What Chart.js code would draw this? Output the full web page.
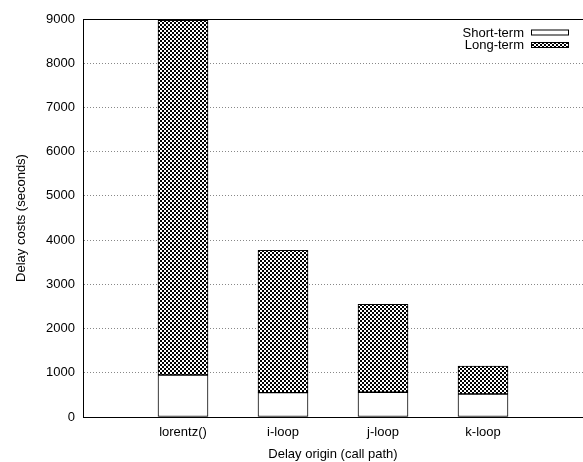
<!DOCTYPE html>
<html>
<head>
<meta charset="utf-8">
<script src="https://cdn.jsdelivr.net/npm/chart.js@4/dist/chart.umd.min.js"></script>
<style>
  html, body { margin: 0; padding: 0; background: #fff; }
  canvas { display: block; }
</style>
</head>
<body>
<canvas id="chart" width="583" height="462"></canvas>
<script>
// Data
var categories = ['lorentz()', 'i-loop', 'j-loop', 'k-loop'];
var shortTerm = [950, 550, 560, 520];
var longTerm = [8020, 3220, 1990, 630];
var seriesLabels = ['Short-term', 'Long-term'];
var yTicks = [0, 1000, 2000, 3000, 4000, 5000, 6000, 7000, 8000, 9000];

// checkerboard fill like the gnuplot pattern
function makePattern() {
    var c = document.createElement('canvas');
    c.width = 4;
    c.height = 4;
    var g = c.getContext('2d');
    g.fillStyle = '#fff';
    g.fillRect(0, 0, 4, 4);
    g.fillStyle = '#000';
    g.fillRect(0, 0, 2, 2);
    g.fillRect(2, 2, 2, 2);
    return g.createPattern(c, 'repeat');
}
var checker = makePattern();

var FONT = { family: '"Liberation Sans", Arial, sans-serif', size: 13 };
Chart.defaults.color = '#000';

// top frame line + legend inside the plot, gnuplot style
var framePlugin = {
    id: 'frame',
    afterDraw: function (chart) {
        var ctx = chart.ctx;
        var a = chart.chartArea;
        ctx.save();
        ctx.strokeStyle = '#000';
        ctx.lineWidth = 1;
        ctx.beginPath();
        ctx.moveTo(a.left, 19.5);
        ctx.lineTo(a.right, 19.5);
        ctx.stroke();

        ctx.font = FONT.size + 'px ' + FONT.family;
        ctx.textAlign = 'right';
        ctx.textBaseline = 'middle';
        ctx.fillStyle = '#000';
        chart.data.datasets.forEach(function (ds, i) {
            var y = 32.5 + i * 12.5;
            ctx.fillText(ds.label, 524, y + 0.5);
            ctx.fillStyle = ds.backgroundColor;
            ctx.fillRect(531, y - 2.5, 38, 5);
            ctx.strokeStyle = '#000';
            ctx.strokeRect(531.5, y - 2.5, 37, 5);
            ctx.fillStyle = '#000';
        });
        ctx.restore();
    }
};

new Chart(document.getElementById('chart'), {
    type: 'bar',
    data: {
        datasets: [{
            label: seriesLabels[0],
            data: categories.map(function (c, i) { return { x: i, y: shortTerm[i] }; }),
            backgroundColor: '#fff',
            borderColor: '#000',
            borderWidth: 1,
            borderSkipped: false,
            barThickness: 50
        }, {
            label: seriesLabels[1],
            data: categories.map(function (c, i) { return { x: i, y: longTerm[i] }; }),
            backgroundColor: checker,
            borderColor: '#000',
            borderWidth: 1,
            borderSkipped: false,
            barThickness: 50
        }]
    },
    options: {
        responsive: false,
        animation: false,
        layout: { padding: { left: 14, top: 19, right: 0, bottom: 0 } },
        plugins: { legend: { display: false }, tooltip: { enabled: false } },
        scales: {
            x: {
                type: 'linear',
                stacked: true,
                offset: false,
                min: -1,
                max: 4,
                afterFit: function (s) { s.height = 45; },
                afterBuildTicks: function (s) {
                    s.ticks = categories.map(function (c, i) { return { value: i }; });
                },
                ticks: {
                    font: FONT,
                    padding: 8,
                    maxRotation: 0,
                    autoSkip: false,
                    callback: function (v) { return categories[v]; }
                },
                grid: { display: false, drawTicks: false },
                border: { display: true, color: '#000', width: 1 },
                title: { display: true, text: 'Delay origin (call path)', font: FONT, padding: 0 }
            },
            y: {
                stacked: true,
                min: 0,
                max: 9000,
                afterFit: function (s) { s.width = 69; },
                afterBuildTicks: function (s) {
                    s.ticks = yTicks.map(function (v) { return { value: v }; });
                },
                ticks: {
                    font: FONT,
                    padding: 8,
                    callback: function (v) { return String(v); }
                },
                grid: { color: '#888', lineWidth: 1, drawTicks: false },
                border: { display: true, color: '#000', width: 1, dash: [1, 2] },
                title: { display: true, text: 'Delay costs (seconds)', font: FONT, padding: 0 }
            }
        }
    },
    plugins: [framePlugin]
});
</script>
</body>
</html>
